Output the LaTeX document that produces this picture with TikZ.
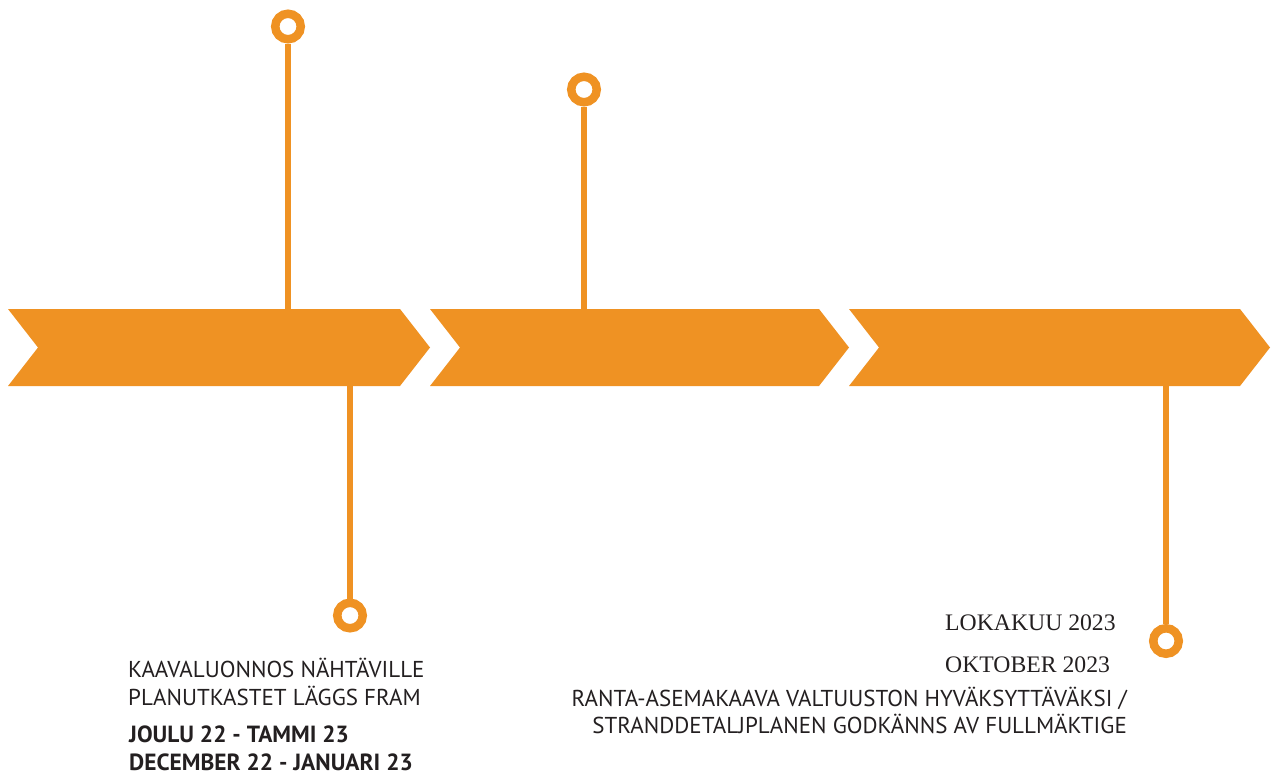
\documentclass[tikz,border=0pt]{standalone}
\usepackage{fontspec}
\setmainfont{PT Sans}
\newfontfamily\serifdate{Liberation Serif}
\definecolor{timelineorange}{RGB}{239,146,35}
\definecolor{textdark}{RGB}{35,31,32}
\usetikzlibrary{positioning}

\begin{document}
\begin{tikzpicture}[x=1pt, y=-1pt,
  ring/.style={circle, draw=timelineorange, line width=8.5pt, minimum size=25.5pt, inner sep=0pt, fill=white},
  stem/.style={draw=timelineorange, line width=6.5pt},
  lbl/.style={inner sep=0pt, text=textdark, font=\fontsize{23}{28}\selectfont}]
  \useasboundingbox (0,0) rectangle (1273,774);

  % Chevrons
  \foreach \xl/\xr in {8/430, 430/849, 849/1270}
    \fill[timelineorange] (\xl,309) -- (\xr-30,309) -- (\xr,347.5) -- (\xr-30,386)
      -- (\xl,386) -- (\xl+30,347.5) -- cycle;

  % Stem ends on the bar
  \coordinate (top1) at (288,309);
  \coordinate (top2) at (584,309);
  \coordinate (bot1) at (350,386);
  \coordinate (bot2) at (1166,386);

  % Rings
  \node[ring] (ring1) at (288,26.5) {};
  \node[ring] (ring2) at (584,89.5) {};
  \node[ring] (ring3) at (350,615.5) {};
  \node[ring] (ring4) at (1166,641) {};

  \draw[stem] (ring1) -- (top1);
  \draw[stem] (ring2) -- (top2);
  \draw[stem] (bot1) -- (ring3);
  \draw[stem] (bot2) -- (ring4);

  % Labels (base = last line)
  \node[lbl, anchor=base west, align=left] (phase1) at (128,705)
    {KAAVALUONNOS NÄHTÄVILLE\\PLANUTKASTET LÄGGS FRAM};
  \node[lbl, font=\bfseries\fontsize{23.4}{27.5}\selectfont, anchor=base west, align=left] (date1) at (129,770)
    {JOULU 22 - TAMMI 23\\DECEMBER 22 - JANUARI 23};
  \node[lbl, font=\serifdate\fontsize{23.7}{42}\selectfont, anchor=base west, align=left] (date2) at (945,672)
    {LOKAKUU 2023\\OKTOBER 2023};
  \node[lbl, font=\fontsize{23}{26.5}\selectfont, anchor=base east, align=right] (phase2) at (1127,733)
    {RANTA-ASEMAKAAVA VALTUUSTON HYVÄKSYTTÄVÄKSI /\\STRANDDETALJPLANEN GODKÄNNS AV FULLMÄKTIGE};
\end{tikzpicture}
\end{document}
